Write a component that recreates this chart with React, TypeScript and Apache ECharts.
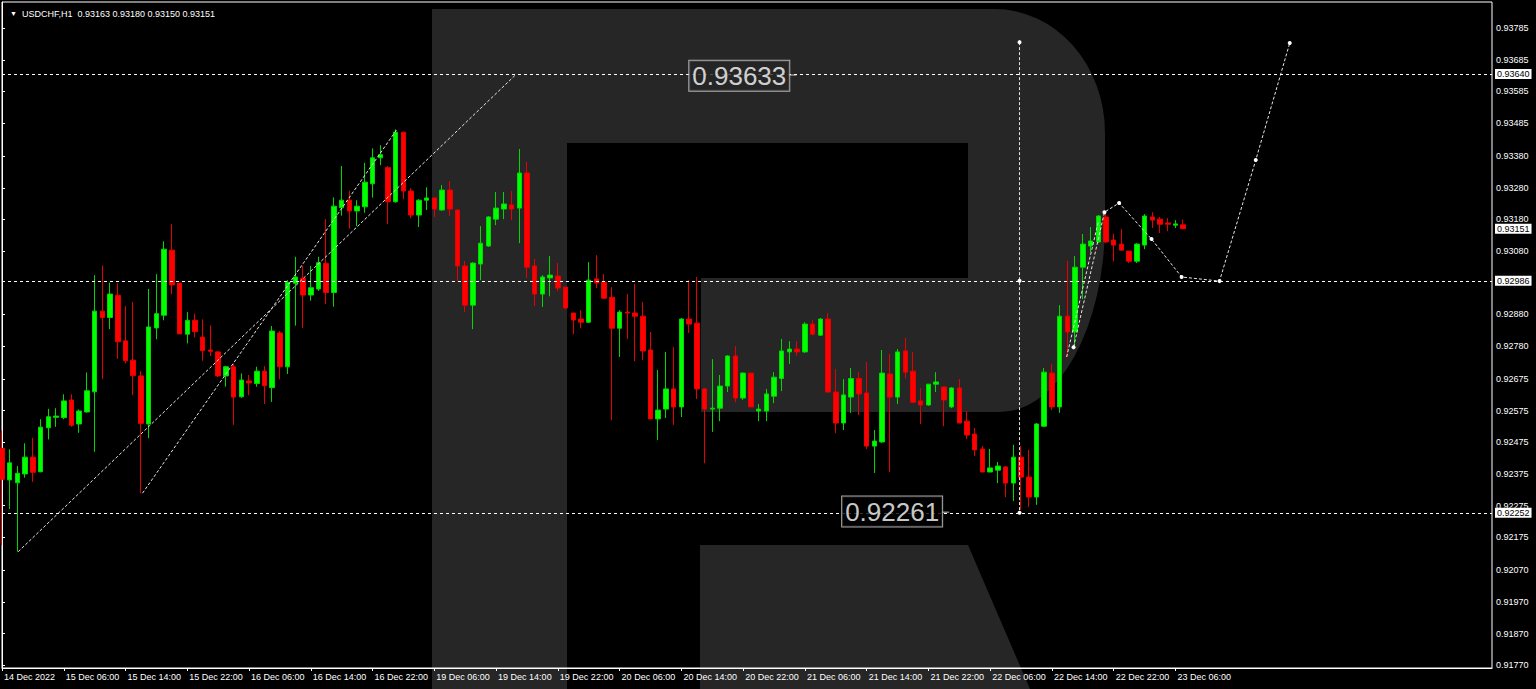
import React, { useEffect, useRef } from 'react';
import * as echarts from 'echarts';

const SYMBOL = 'USDCHF,H1';
const tickLabels = ['14 Dec 2022','15 Dec 06:00','15 Dec 14:00','15 Dec 22:00','16 Dec 06:00','16 Dec 14:00','16 Dec 22:00','19 Dec 06:00','19 Dec 14:00','19 Dec 22:00','20 Dec 06:00','20 Dec 14:00','20 Dec 22:00','21 Dec 06:00','21 Dec 14:00','21 Dec 22:00','22 Dec 06:00','22 Dec 14:00','22 Dec 22:00','23 Dec 06:00'];
const TICK_STEP = 8;
const FUTURE_SLOTS = 40;
const Y_MIN = 0.91761;
const Y_MAX = 0.93868;

const opens = [
0.92456,0.92356,0.92347,0.92375,0.92428,0.92382,0.92521,0.92554,0.92553,0.92609,
0.92533,0.92571,0.92635,0.92890,0.92870,0.92940,0.92796,0.92735,0.92685,0.92533,
0.92837,0.92877,0.93083,0.92979,0.92817,0.92861,0.92808,0.92767,0.92761,0.92685,
0.92714,0.92619,0.92669,0.92661,0.92700,0.92648,0.92821,0.92714,0.92978,0.92994,
0.92941,0.92960,0.93041,0.92949,0.93217,0.93241,0.93207,0.93220,0.93293,0.93375,
0.93344,0.93236,0.93456,0.93270,0.93194,0.93241,0.93248,0.93210,0.93273,0.93210,
0.93033,0.92909,0.93039,0.93096,0.93181,0.93213,0.93226,0.93216,0.93327,0.93033,
0.92944,0.92995,0.93001,0.92966,0.92884,0.92865,0.92855,0.92992,0.92982,0.92934,
0.92836,0.92887,0.92884,0.92874,0.92767,0.92549,0.92580,0.92644,0.92587,0.92865,
0.92852,0.92644,0.92580,0.92583,0.92653,0.92748,0.92615,0.92694,0.92574,0.92574,
0.92621,0.92677,0.92761,0.92770,0.92761,0.92849,0.92814,0.92865,0.92634,0.92536,
0.92618,0.92677,0.92631,0.92463,0.92476,0.92691,0.92618,0.92764,0.92700,0.92606,
0.92593,0.92659,0.92650,0.92587,0.92647,0.92542,0.92501,0.92454,0.92381,0.92387,
0.92397,0.92346,0.92428,0.92365,0.92302,0.92526,0.92694,0.92587,0.92874,0.92824,
0.93029,0.93096,0.93109,0.93188,0.93115,0.93102,0.93080,0.93048,0.93099,0.93188,
0.93181,0.93169,0.93162,0.93163
];

const closes = [
0.92358,0.92410,0.92377,0.92428,0.92380,0.92523,0.92556,0.92558,0.92606,0.92529,
0.92574,0.92638,0.92890,0.92870,0.92944,0.92793,0.92733,0.92686,0.92535,0.92840,
0.92882,0.93086,0.92973,0.92818,0.92861,0.92825,0.92765,0.92763,0.92685,0.92714,
0.92618,0.92672,0.92663,0.92700,0.92654,0.92827,0.92714,0.92981,0.92998,0.92941,
0.92964,0.93043,0.92949,0.93222,0.93241,0.93207,0.93222,0.93298,0.93375,0.93385,
0.93236,0.93456,0.93270,0.93194,0.93241,0.93248,0.93213,0.93273,0.93213,0.93033,
0.92909,0.93042,0.93105,0.93188,0.93216,0.93229,0.93213,0.93327,0.93029,0.92944,
0.92998,0.93004,0.92963,0.92900,0.92862,0.92855,0.92988,0.92979,0.92931,0.92836,
0.92887,0.92884,0.92874,0.92764,0.92549,0.92577,0.92644,0.92587,0.92865,0.92849,
0.92644,0.92580,0.92583,0.92653,0.92748,0.92615,0.92694,0.92587,0.92580,0.92628,
0.92681,0.92764,0.92770,0.92761,0.92849,0.92817,0.92865,0.92634,0.92536,0.92625,
0.92677,0.92628,0.92463,0.92479,0.92694,0.92618,0.92761,0.92697,0.92602,0.92593,
0.92659,0.92666,0.92609,0.92647,0.92536,0.92498,0.92451,0.92381,0.92394,0.92400,
0.92346,0.92428,0.92365,0.92302,0.92533,0.92697,0.92587,0.92874,0.92824,0.93029,
0.93102,0.93112,0.93191,0.93109,0.93099,0.93083,0.93048,0.93102,0.93191,0.93178,
0.93165,0.93165,0.93166,0.93151
];

const lows = [
0.92150,0.92264,0.92129,0.92363,0.92350,0.92380,0.92484,0.92524,0.92548,0.92524,
0.92505,0.92569,0.92445,0.92675,0.92833,0.92739,0.92725,0.92624,0.92314,0.92488,
0.92801,0.92861,0.92944,0.92818,0.92788,0.92807,0.92733,0.92748,0.92681,0.92651,
0.92530,0.92616,0.92624,0.92651,0.92596,0.92603,0.92674,0.92691,0.92844,0.92837,
0.92923,0.92954,0.92913,0.92904,0.93192,0.93151,0.93159,0.93201,0.93249,0.93352,
0.93166,0.93233,0.93244,0.93184,0.93156,0.93210,0.93188,0.93207,0.93191,0.92985,
0.92887,0.92833,0.92988,0.93093,0.93162,0.93181,0.93178,0.93105,0.92995,0.92906,
0.92903,0.92937,0.92953,0.92897,0.92817,0.92836,0.92852,0.92963,0.92928,0.92545,
0.92745,0.92802,0.92732,0.92735,0.92549,0.92482,0.92552,0.92530,0.92555,0.92821,
0.92612,0.92409,0.92508,0.92542,0.92634,0.92602,0.92609,0.92587,0.92542,0.92542,
0.92599,0.92637,0.92723,0.92749,0.92758,0.92814,0.92811,0.92634,0.92504,0.92514,
0.92568,0.92561,0.92454,0.92378,0.92473,0.92381,0.92596,0.92677,0.92599,0.92533,
0.92590,0.92634,0.92526,0.92583,0.92536,0.92485,0.92432,0.92381,0.92381,0.92346,
0.92302,0.92289,0.92261,0.92270,0.92277,0.92523,0.92577,0.92568,0.92745,0.92776,
0.92928,0.93077,0.93105,0.93105,0.93048,0.93083,0.93042,0.93042,0.93086,0.93153,
0.93137,0.93143,0.93153,0.93150
];

const highs = [
0.92512,0.92453,0.92400,0.92472,0.92489,0.92548,0.92581,0.92583,0.92627,0.92627,
0.92579,0.92696,0.93004,0.93034,0.92980,0.92978,0.92906,0.92919,0.92701,0.92960,
0.93007,0.93111,0.93165,0.92979,0.92887,0.92882,0.92864,0.92845,0.92764,0.92717,
0.92723,0.92693,0.92688,0.92714,0.92716,0.92843,0.92827,0.92988,0.93062,0.93033,
0.93033,0.93062,0.93181,0.93250,0.93349,0.93271,0.93241,0.93359,0.93405,0.93415,
0.93349,0.93465,0.93458,0.93279,0.93244,0.93282,0.93251,0.93289,0.93301,0.93210,
0.93049,0.93045,0.93159,0.93191,0.93267,0.93267,0.93270,0.93403,0.93362,0.93055,
0.93004,0.93064,0.93042,0.92966,0.92884,0.92893,0.93045,0.93067,0.93007,0.92966,
0.92893,0.92944,0.92976,0.92919,0.92824,0.92704,0.92761,0.92776,0.92868,0.92988,
0.92998,0.92647,0.92738,0.92688,0.92751,0.92779,0.92697,0.92694,0.92596,0.92644,
0.92697,0.92802,0.92795,0.92795,0.92855,0.92862,0.92868,0.92884,0.92707,0.92675,
0.92710,0.92697,0.92729,0.92514,0.92767,0.92754,0.92770,0.92805,0.92761,0.92647,
0.92659,0.92697,0.92650,0.92650,0.92675,0.92574,0.92520,0.92463,0.92454,0.92413,
0.92400,0.92467,0.92463,0.92451,0.92536,0.92710,0.92723,0.92909,0.93049,0.93064,
0.93134,0.93156,0.93194,0.93207,0.93135,0.93150,0.93080,0.93105,0.93197,0.93203,
0.93188,0.93184,0.93178,0.93180
];

const priceTicks = [0.93785,0.93685,0.93585,0.93485,0.9338,0.9328,0.9318,0.9308,0.9288,0.9278,0.92675,0.92575,0.92475,0.92375,0.92275,0.92175,0.9207,0.9197,0.9187,0.9177];
const levelLines = [0.9364, 0.92986, 0.92252];
const currentPrice = 0.93151;

// analysis drawings, [bar index, price]
const trendA = [[2.1, 0.92129], [66.5, 0.93637]];
const trendB = [[18.2, 0.92314], [51.1, 0.93463]];
const verticalLine = [[131.8, 0.93741], [131.8, 0.92986], [131.8, 0.92252]];
const riseLine = [[137.9, 0.92745], [142.0, 0.93172]];
const forecast = [[138.8, 0.92776], [142.8, 0.93203], [144.7, 0.93232], [148.9, 0.93118], [152.8, 0.92998], [157.7, 0.92985], [162.4, 0.93368], [166.8, 0.93738]];
const textLabels = [
  { text: '0.93633', at: [95.5, 0.93635], dash: [[101.8, 0.93637], [102.9, 0.93637]], fill: '#262626' },
  { text: '0.92261', at: [115.3, 0.92256], dash: [[121.7, 0.92254], [122.7, 0.92254]], fill: '#000000' },
];

const LOGO_D = 'M432 9 L995 9 A110 124 0 0 1 1105 133 L1105 223 A105 189 0 0 1 1000 412 L701 412 L701 278 L968 278 L968 143 L567 143 L567 689 L432 689 Z M700 545 L968 545 L1030 689 L700 689 Z';

let logoRegistered = false;
function registerLogo() {
  if (logoRegistered) return;
  echarts.graphic.registerShape('rlogo', echarts.graphic.extendPath(LOGO_D, {}));
  logoRegistered = true;
}

const FONT = 'Liberation Sans';

export default function App() {
  const ref = useRef<HTMLDivElement>(null);

  useEffect(() => {
    if (!ref.current) return;
    registerLogo();
    const chart = echarts.init(ref.current, undefined, { renderer: 'svg' });
    const n = opens.length;
    const categories = Array.from({ length: n + FUTURE_SLOTS }, (_, i) => String(i));
    const showTick = (idx: number) => idx % TICK_STEP === 0 && idx / TICK_STEP < tickLabels.length;
    const candles = opens.map((o, i) => [o, closes[i], lows[i], highs[i]]);
    const dashStyle = { color: '#e6e6e6', width: 1, type: [3, 2] as any };

    const overlay = (data: number[][], withSymbols: boolean) => ({
      type: 'line',
      xAxisIndex: 1,
      yAxisIndex: 0,
      data,
      silent: true,
      animation: false,
      symbol: withSymbols ? 'circle' : 'none',
      symbolSize: 4,
      itemStyle: { color: '#ffffff' },
      lineStyle: dashStyle,
      z: 4,
    });

    const last = n - 1;
    const header = `{tri|▼}  ${SYMBOL}  ${opens[last].toFixed(5)} ${highs[last].toFixed(5)} ${lows[last].toFixed(5)} ${closes[last].toFixed(5)}`;

    chart.setOption({
      animation: false,
      backgroundColor: '#000000',
      textStyle: { fontFamily: FONT },
      title: {
        text: header,
        left: 5,
        top: 4,
        textStyle: {
          color: '#ffffff', fontSize: 9, fontWeight: 'normal', fontFamily: FONT,
          rich: { tri: { fontSize: 7, color: '#ffffff' } },
        },
      },
      graphic: [
        { type: 'rlogo', x: 0, y: 0, z: -1, silent: true, style: { fill: '#262626' } },
      ],
      grid: {
        left: 2, right: 44, top: 2, bottom: 21,
        show: true, borderColor: '#ffffff', borderWidth: 1, backgroundColor: 'transparent',
      },
      xAxis: [
        {
          type: 'category',
          data: categories,
          boundaryGap: false,
          axisLine: { show: true, lineStyle: { color: '#ffffff' } },
          axisTick: { show: true, interval: (idx: number) => showTick(idx), length: 3, lineStyle: { color: '#ffffff' } },
          axisLabel: {
            interval: (idx: number) => showTick(idx),
            formatter: (_v: string, idx: number) => (showTick(idx) ? tickLabels[idx / TICK_STEP] : ''),
            color: '#ffffff', fontSize: 9, fontFamily: FONT, align: 'left', margin: 4, padding: [0, 0, 0, 2],
          },
          splitLine: { show: false },
        },
        { type: 'value', min: 0, max: categories.length - 1, show: false },
      ],
      yAxis: {
        type: 'value',
        position: 'right',
        min: Y_MIN,
        max: Y_MAX,
        axisLine: { show: true, lineStyle: { color: '#ffffff' } },
        axisTick: { show: true, customValues: priceTicks, length: 3, lineStyle: { color: '#ffffff' } },
        axisLabel: {
          customValues: priceTicks,
          formatter: (v: number) => v.toFixed(5),
          color: '#ffffff', fontSize: 9, fontFamily: FONT, margin: 4,
        },
        splitLine: { show: false },
      },
      series: [
        {
          type: 'candlestick',
          xAxisIndex: 0,
          yAxisIndex: 0,
          data: candles,
          barWidth: 5,
          z: 3,
          itemStyle: {
            color: '#00ff00', color0: '#ff0000',
            borderColor: '#00d800', borderColor0: '#e80000', borderWidth: 1,
          },
          markLine: {
            silent: true,
            precision: 5,
            symbol: ['none', 'none'],
            animation: false,
            lineStyle: { color: '#ffffff', width: 1, type: [3, 3] },
            label: {
              show: true, position: 'end', distance: 3,
              formatter: (p: any) => Number(p.value).toFixed(5),
              backgroundColor: '#ffffff', color: '#000000', fontSize: 9, fontFamily: FONT,
              padding: [1, 2, 0, 2],
            },
            data: [
              ...levelLines.map((v) => ({ yAxis: v })),
              { yAxis: currentPrice, lineStyle: { width: 0, color: 'rgba(0,0,0,0)' } },
            ],
          },
        },
        overlay(trendA, false),
        overlay(trendB, false),
        overlay(verticalLine, true),
        overlay(riseLine, false),
        overlay(forecast, true),
        ...textLabels.map((t) => ({
          type: 'line', xAxisIndex: 1, yAxisIndex: 0, data: t.dash, silent: true, symbol: 'none',
          lineStyle: { color: '#c8c8c8', width: 1 }, z: 4,
        })),
        {
          type: 'scatter',
          xAxisIndex: 1,
          yAxisIndex: 0,
          silent: true,
          symbolSize: 1,
          itemStyle: { color: 'rgba(0,0,0,0)' },
          z: 6,
          data: textLabels.map((t) => ({
            value: t.at,
            name: t.text,
            label: { backgroundColor: t.fill },
          })),
          label: {
            show: true,
            position: 'inside',
            formatter: (p: any) => p.name,
            color: '#ffffff', fontSize: 26, fontFamily: FONT,
            borderColor: '#d0d0d0', borderWidth: 1,
            padding: [2, 3, 1, 3], lineHeight: 27,
          },
        },
      ],
    });

    return () => chart.dispose();
  }, []);

  return (
    <div
      ref={ref}
      style={{ position: 'absolute', left: 0, top: 0, width: 1536, height: 689 }}
    />
  );
}
